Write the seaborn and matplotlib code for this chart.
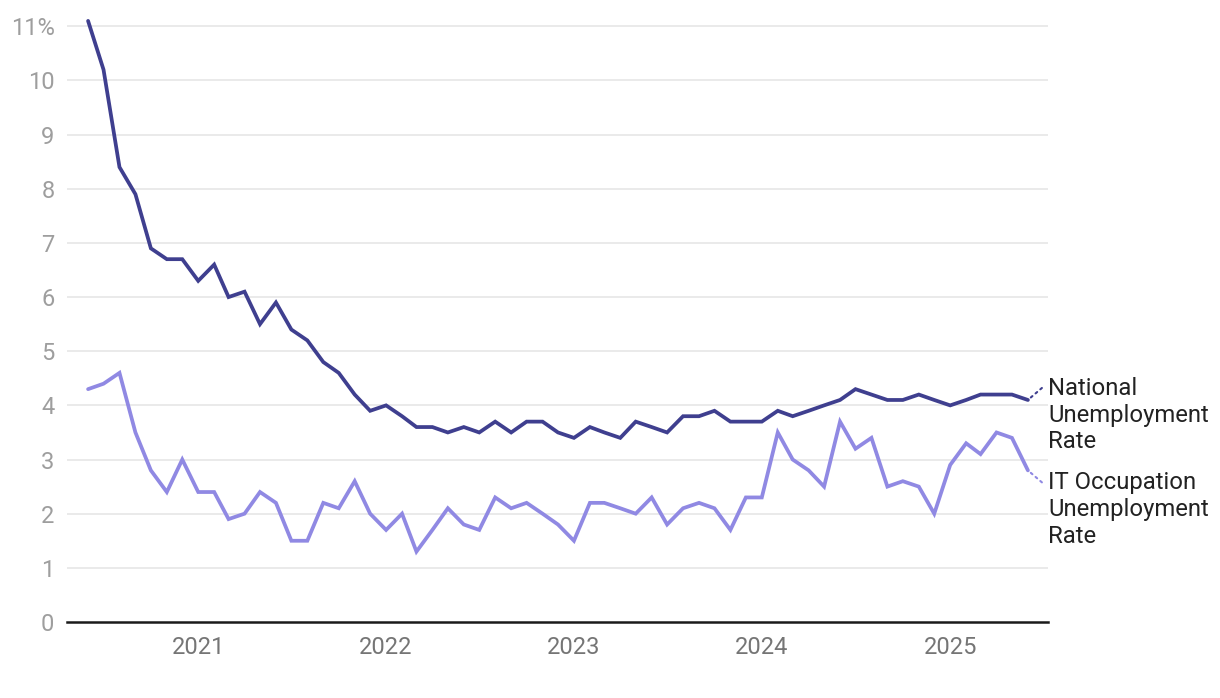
import pandas as pd
import seaborn as sns
import matplotlib.pyplot as plt
import matplotlib.dates as mdates

# monthly values, June 2020 - June 2025
months = pd.date_range("2020-06-01", periods=61, freq="MS")

national_rate = [
    11.1, 10.2, 8.4, 7.9, 6.9, 6.7, 6.7,
    6.3, 6.6, 6.0, 6.1, 5.5, 5.9, 5.4, 5.2, 4.8, 4.6, 4.2, 3.9, 4.0,
    3.8, 3.6, 3.6, 3.5, 3.6, 3.5, 3.7, 3.5, 3.7, 3.7, 3.5, 3.4,
    3.6, 3.5, 3.4, 3.7, 3.6, 3.5, 3.8, 3.8, 3.9, 3.7, 3.7, 3.7,
    3.9, 3.8, 3.9, 4.0, 4.1, 4.3, 4.2, 4.1, 4.1, 4.2, 4.1, 4.0,
    4.1, 4.2, 4.2, 4.2, 4.1,
]
it_rate = [
    4.3, 4.4, 4.6, 3.5, 2.8, 2.4, 3.0,
    2.4, 2.4, 1.9, 2.0, 2.4, 2.2, 1.5, 1.5, 2.2, 2.1, 2.6, 2.0, 1.7,
    2.0, 1.3, 1.7, 2.1, 1.8, 1.7, 2.3, 2.1, 2.2, 2.0, 1.8, 1.5,
    2.2, 2.2, 2.1, 2.0, 2.3, 1.8, 2.1, 2.2, 2.1, 1.7, 2.3, 2.3,
    3.5, 3.0, 2.8, 2.5, 3.7, 3.2, 3.4, 2.5, 2.6, 2.5, 2.0, 2.9,
    3.3, 3.1, 3.5, 3.4, 2.8,
]

series_names = ["National\nUnemployment\nRate", "IT Occupation\nUnemployment\nRate"]
series_colors = ["#3f3f8f", "#9089e3"]

y_ticks = list(range(12))
y_labels = [str(v) for v in y_ticks[:-1]] + ["11%"]

df = pd.DataFrame({
    "month": list(months) * 2,
    "rate": national_rate + it_rate,
    "series": [series_names[0]] * len(months) + [series_names[1]] * len(months),
})

sns.set_theme(style="white")
plt.rcParams["font.family"] = ["Roboto", "DejaVu Sans"]

fig = plt.figure(figsize=(12.2, 6.98), dpi=100)
ax = fig.add_axes([0.0549, 0.1089, 0.8041, 0.8689])

sns.lineplot(data=df, x="month", y="rate", hue="series",
             palette=dict(zip(series_names, series_colors)),
             linewidth=2.7, legend=False, ax=ax)
for line in ax.lines:
    line.set_clip_on(False)
    line.set_solid_joinstyle("miter")

ax.set_xlim(pd.Timestamp("2020-04-21"), pd.Timestamp("2025-07-10"))
ax.set_ylim(0, 11.2)

ax.set_yticks(y_ticks[1:], y_labels[1:])
ax.set_yticks([0], minor=True)
ax.set_yticklabels(["0"], minor=True)
ax.yaxis.grid(True, which="major", color="#e6e6e6", linewidth=1.2)
ax.set_axisbelow(True)
ax.tick_params(axis="y", which="both", length=0, pad=9, labelsize=17, labelcolor="#9e9e9e")

ax.xaxis.set_major_locator(mdates.YearLocator())
ax.xaxis.set_major_formatter(mdates.DateFormatter("%Y"))
ax.tick_params(axis="x", length=0, pad=10, labelsize=17, labelcolor="#757575")

ax.set_xlabel("")
ax.set_ylabel("")
for side in ["top", "right", "left"]:
    ax.spines[side].set_visible(False)
ax.spines["bottom"].set_color("#1a1a1a")
ax.spines["bottom"].set_linewidth(1.8)

# end labels with dotted leaders
leader_dy = [12, -12]
for name, color, values, dy in zip(series_names, series_colors, [national_rate, it_rate], leader_dy):
    last = (months[-1], values[-1])
    ax.annotate("", xy=last, xytext=(14, dy), textcoords="offset pixels",
                arrowprops=dict(arrowstyle="-", linestyle=(0, (1, 2)), color=color,
                                lw=1.5, shrinkA=0, shrinkB=0),
                annotation_clip=False)
    ax.annotate(name, xy=last, xytext=(20, dy + 11), textcoords="offset pixels",
                ha="left", va="top", fontsize=17.2, color="#222222",
                linespacing=1.2, annotation_clip=False)

fig.savefig("out.png", dpi=100)
